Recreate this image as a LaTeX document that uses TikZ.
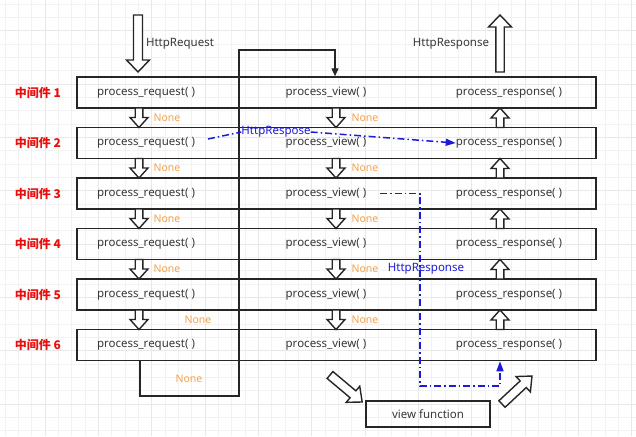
\documentclass[tikz,border=0pt]{standalone}
\usepackage{fontspec}
\setmainfont{Noto Sans}
\newfontfamily\cjkfont{Noto Sans CJK SC}
\usetikzlibrary{arrows.meta}
\definecolor{noneor}{HTML}{F2A24E}
\definecolor{bl}{HTML}{1C1CD8}
\definecolor{midred}{HTML}{E8100E}
\definecolor{txt}{HTML}{383838}
\newcommand\hollowarrow[7]{\begin{scope}[shift={(#1,#2)},rotate=#3]
\draw[harrow] (0,-#5) -- ({#4-#7},-#5) -- ({#4-#7},-#6) -- (#4,0) -- ({#4-#7},#6) -- ({#4-#7},#5) -- (0,#5) -- cycle;
\end{scope}}
\tikzset{
  gridminor/.style={draw=black!5, line width=0.5pt},
  gridmajor/.style={draw=black!9, line width=0.6pt},
  rowbox/.style={draw=black!85, line width=1.5pt, minimum width=519pt, minimum height=31pt, inner sep=0},
  fn/.style={text=txt, font=\fontsize{11.5}{13}\selectfont, inner sep=0},
  nonelbl/.style={text=noneor, font=\fontsize{10.5}{12}\selectfont, inner sep=0},
  midlbl/.style={text=midred, font=\cjkfont\bfseries\fontsize{12}{14}\selectfont, inner sep=0},
  bltext/.style={text=bl, font=\fontsize{11.5}{13}\selectfont, inner sep=0},
  harrow/.style={draw=black!85, line width=1.4pt, fill=white, line join=miter},
  conn/.style={draw=black!85, line width=1.4pt},
  bline/.style={draw=bl, line width=1.5pt, dash pattern=on 7pt off 3pt on 1.5pt off 3pt},
  vbox/.style={draw=black!85, line width=1.5pt, minimum width=124pt, minimum height=26pt, inner sep=0, text=txt, font=\fontsize{11.5}{13}\selectfont},
}
\begin{document}
\begin{tikzpicture}[x=1pt,y=-1pt]
\useasboundingbox (0,0) rectangle (636,436);
\fill[white] (0,0) rectangle (636,436);
% grid
\foreach \x in {5,18.33,...,636} \draw[gridminor] (\x,0) -- (\x,436);
\foreach \y in {4,17.33,...,436} \draw[gridminor] (0,\y) -- (636,\y);
\foreach \x in {45,98.33,...,636} \draw[gridmajor] (\x,0) -- (\x,436);
\foreach \y in {30.67,84,...,436} \draw[gridmajor] (0,\y) -- (636,\y);
% rows
\foreach \i in {1,...,6}{
  \pgfmathsetmacro\cy{92.5+50.5*(\i-1)}
  \node[rowbox] (r\i) at (336.5,\cy) {};
  \node[midlbl] (m\i) at (38,\cy) {中间件 \i};
  \node[fn] (pq\i) at (146,\cy) {process\_request( )};
  \node[fn] (pv\i) at (326,\cy) {process\_view( )};
  \node[fn] (pr\i) at (509,\cy) {process\_response( )};
}
% small arrows between rows
\foreach \i in {1,...,5}{
  \pgfmathsetmacro\by{108+50.5*(\i-1)}
  \pgfmathsetmacro\ty{127.5+50.5*(\i-1)}
  \hollowarrow{139}{\by}{-90}{19.5}{3.8}{9}{10}
  \hollowarrow{336}{\by}{-90}{19.5}{3.8}{9}{10}
  \hollowarrow{500}{\ty}{90}{19.5}{3.8}{9}{10}
}
\foreach \i in {1,...,4}{
  \pgfmathsetmacro\gy{117.75+50.5*(\i-1)}
  \node[nonelbl] (na\i) at (167,\gy) {None};
  \node[nonelbl] (nb\i) at (365,\gy) {None};
}
\node[nonelbl] (na5) at (198,320) {None};
\node[nonelbl] (nb5) at (365,320) {None};
\node[nonelbl] (na6) at (189,379) {None};
% big arrows
\hollowarrow{138}{15}{-90}{57}{4.5}{11.5}{12}
\hollowarrow{500}{72}{90}{57}{4.2}{11.5}{12}
\node[fn] (hreq) at (180,44) {HttpRequest};
\node[fn] (hres) at (451,44) {HttpResponse};
% view function
\node[vbox] (vf) at (428,414) {view function};
\hollowarrow{330}{375}{-40}{42}{4.5}{10.5}{12}
\hollowarrow{502}{404}{43}{41}{4.5}{10.5}{12}
% black path
\coordinate (lbot) at (140,396);
\coordinate (vbot) at (239,396);
\coordinate (vtop) at (239,50);
\coordinate (vin) at (335,50);
\draw[conn,-{Triangle[length=8pt,width=7pt]}] (r6.south -| lbot) -- (lbot) -- (vbot) -- (vtop) -- (vin) -- (vin |- r1.north);
% blue lines
\node[bltext] (hr1) at (276,132) {HttpRespose};
\coordinate (b1s) at (208,139);
\draw[bline] (b1s) -- (hr1.west);
\draw[bline,-{Triangle[length=10pt,width=7pt]}] (hr1.east) -- (pr2.west);
\node[bltext] (hr2) at (426,269) {HttpResponse};
\coordinate (b2s) at (380,193.5);
\coordinate (b2a) at (420,193.5);
\coordinate (b2b) at (420,386);
\coordinate (b2c) at (500,386);
\draw[bline,-{Triangle[length=10pt,width=7pt]}] (b2s) -- (b2a) -- (b2b) -- (b2c) -- (b2c |- r6.south);
\end{tikzpicture}
\end{document}
